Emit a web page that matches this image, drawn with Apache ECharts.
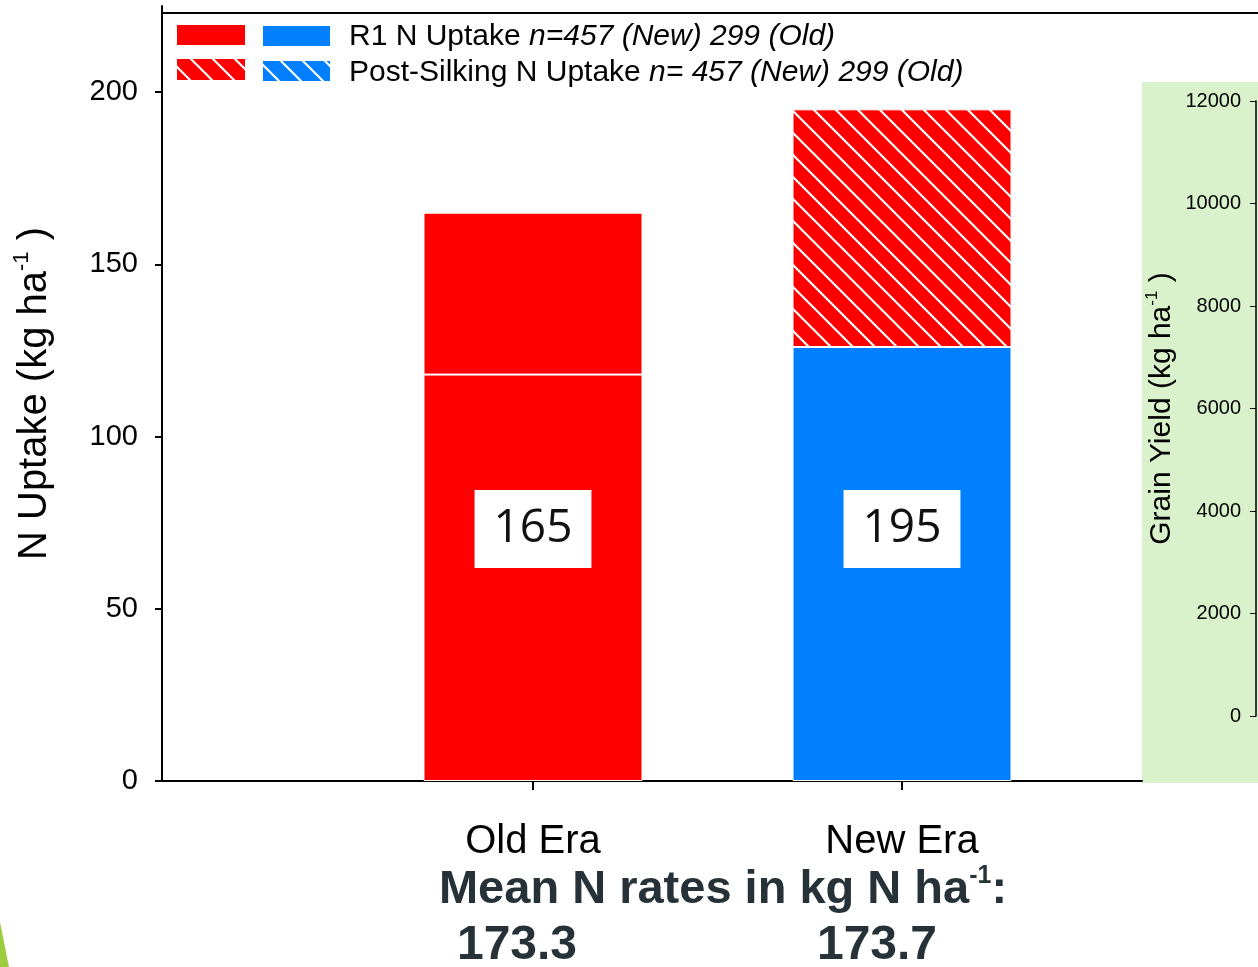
<!DOCTYPE html>
<html>
<head>
<meta charset="utf-8">
<script src="https://cdn.jsdelivr.net/npm/echarts@6/dist/echarts.min.js"></script>
<style>
  html, body { margin: 0; padding: 0; background: #fff; }
  #chart { width: 1258px; height: 967px; }
</style>
</head>
<body>
<div id="chart"></div>
<script>
// ---- data ----
const eras = ['Old Era', 'New Era'];
const r1Uptake = [118, 126];          // kg N/ha taken up by R1
const postSilkingUptake = [47, 69];   // kg N/ha taken up after silking
const uptakeTicks = [0, 50, 100, 150, 200];
const yieldTicks = [0, 2000, 4000, 6000, 8000, 10000, 12000];
const meanNRates = ['173.3', '173.7'];
const legendMain = ['R1 N Uptake ', 'Post-Silking N Uptake '];
const legendCounts = ['n=457 (New) 299 (Old)', 'n= 457 (New) 299 (Old)'];

const totals = r1Uptake.map((v, i) => v + postSilkingUptake[i]);

// ---- styling helpers ----
const RED = '#ff0000';
const BLUE = '#0080ff';
const FONT = '"Liberation Sans", Arial, sans-serif';

function hatch(bg) {
  const s = 22;
  const c = document.createElement('canvas');
  c.width = c.height = s;
  const g = c.getContext('2d');
  g.fillStyle = bg;
  g.fillRect(0, 0, s, s);
  g.strokeStyle = '#ffffff';
  g.lineWidth = 2.2;
  g.beginPath();
  for (const k of [-s, 0, s]) {
    g.moveTo(k - 1, -1);
    g.lineTo(k + s + 1, s + 1);
  }
  g.stroke();
  return { image: c, repeat: 'repeat' };
}

const redHatch = hatch(RED);
const blueHatch = hatch(BLUE);

const r1Colors = [RED, BLUE];
const postColors = [RED, redHatch];

const chart = echarts.init(document.getElementById('chart'), null, { renderer: 'canvas' });

const supRich = (size, supSize) => ({
  t: { fontSize: size, fontFamily: FONT, color: '#000', lineHeight: size * 1.2 },
  s: { fontSize: supSize, fontFamily: FONT, color: '#000', verticalAlign: 'top', lineHeight: supSize * 1.2 }
});

const option = {
  animation: false,
  backgroundColor: '#ffffff',
  grid: [
    { left: 348.5, width: 738, top: 6, bottom: 186 },   // bars
    { left: 162, right: 116, top: 6, bottom: 186 },     // full-width baseline
    { left: 1256, right: 1, top: 101, bottom: 251 }     // grain yield axis
  ],
  xAxis: [
    {
      gridIndex: 0, type: 'category', data: eras,
      axisLine: { show: false },
      axisTick: { show: true, alignWithLabel: true, length: 9, lineStyle: { color: '#000', width: 2 } },
      axisLabel: { fontSize: 40, fontFamily: FONT, color: '#000', margin: 41 }
    },
    {
      gridIndex: 1, type: 'value', min: 0, max: 1,
      axisLine: { show: true, lineStyle: { color: '#000', width: 2 } },
      axisTick: { show: false }, axisLabel: { show: false }, splitLine: { show: false }
    },
    { gridIndex: 2, type: 'value', show: false }
  ],
  yAxis: [
    {
      gridIndex: 0, type: 'value', min: 0, max: 225, position: 'left', offset: 186.5,
      axisLine: { show: true, lineStyle: { color: '#000', width: 2 } },
      axisTick: { show: true, length: 7, lineStyle: { color: '#000', width: 2 }, customValues: uptakeTicks },
      axisLabel: { customValues: uptakeTicks, fontSize: 29, fontFamily: FONT, color: '#000', margin: 24 },
      splitLine: { show: false },
      name: '{t|N Uptake (kg ha}{s|-1}{t| )}',
      nameLocation: 'middle', nameRotate: 90, nameGap: 103,
      nameTextStyle: { rich: supRich(40, 22) }
    },
    { gridIndex: 1, type: 'value', min: 0, max: 225, show: false },
    {
      gridIndex: 2, type: 'value', min: 0, max: 12000, interval: 2000, position: 'left',
      axisLine: { show: true, lineStyle: { color: '#000', width: 1.5 } },
      axisTick: { show: true, length: 6, lineStyle: { color: '#000', width: 1 } },
      axisLabel: {
        fontSize: 20, fontFamily: FONT, color: '#000', margin: 15,
        formatter: v => String(v)
      },
      splitLine: { show: false },
      name: '{t|Grain Yield (kg ha}{s|-1}{t| )}',
      nameLocation: 'middle', nameRotate: 90, nameGap: 76,
      nameTextStyle: { rich: supRich(30, 17) }
    }
  ],
  series: [
    {
      name: 'R1 N Uptake', type: 'bar', stack: 'uptake', barWidth: 219,
      xAxisIndex: 0, yAxisIndex: 0,
      data: r1Uptake.map((v, i) => ({ value: v, itemStyle: { color: r1Colors[i] } })),
      itemStyle: { borderColor: '#ffffff', borderWidth: 1 },
      label: {
        show: true, position: 'insideBottom', distance: 213,
        formatter: p => String(totals[p.dataIndex]),
        backgroundColor: '#ffffff', padding: [16, 19],
        fontSize: 46, lineHeight: 46, fontFamily: '"Open Sans", "Noto Sans", sans-serif', color: '#111'
      }
    },
    {
      name: 'Post-Silking N Uptake', type: 'bar', stack: 'uptake', barWidth: 219,
      xAxisIndex: 0, yAxisIndex: 0,
      data: postSilkingUptake.map((v, i) => ({ value: v, itemStyle: { color: postColors[i] } })),
      itemStyle: { borderColor: '#ffffff', borderWidth: 1 }
    }
  ],
  graphic: [
    // green panel behind the grain-yield axis
    { type: 'rect', z: -10, shape: { x: 1142, y: 82, width: 116, height: 701 }, style: { fill: '#daf2cb' } },
    // top frame line
    { type: 'line', shape: { x1: 162, y1: 13, x2: 1258, y2: 13 }, style: { stroke: '#000', lineWidth: 2 } },
    // slide accent in the corner
    { type: 'polygon', shape: { points: [[0, 922], [9, 967], [0, 967]] }, style: { fill: '#9dcc3e' } },
    // legend swatches
    { type: 'rect', shape: { x: 177, y: 25, width: 68, height: 20 }, style: { fill: RED } },
    { type: 'rect', shape: { x: 263, y: 26, width: 67, height: 20 }, style: { fill: BLUE } },
    { type: 'rect', shape: { x: 177, y: 59, width: 68, height: 21 }, style: { fill: redHatch } },
    { type: 'rect', shape: { x: 263, y: 61, width: 67, height: 20 }, style: { fill: blueHatch } },
    // legend text
    ...legendMain.map((m, i) => ({
      type: 'text', x: 349, y: 37 + i * 36,
      style: {
        text: '{n|' + m + '}{i|' + legendCounts[i] + '}',
        verticalAlign: 'middle', align: 'left',
        rich: {
          n: { fontSize: 30, fontFamily: FONT, fill: '#000' },
          i: { fontSize: 30, fontFamily: FONT, fontStyle: 'italic', fill: '#000' }
        }
      }
    })),
    // mean N rate caption
    {
      type: 'text', x: 723, y: 890,
      style: {
        text: '{b|Mean N rates in kg N ha}{s|-1}{b|:}',
        align: 'center', verticalAlign: 'middle',
        rich: {
          b: { fontSize: 47, fontWeight: 'bold', fontFamily: FONT, fill: '#263238', lineHeight: 52 },
          s: { fontSize: 25, fontWeight: 'bold', fontFamily: FONT, fill: '#263238', verticalAlign: 'top', lineHeight: 30 }
        }
      }
    },
    ...meanNRates.map((t, i) => ({
      type: 'text', x: [517, 877][i], y: 946,
      style: {
        text: t, align: 'center', verticalAlign: 'middle',
        fontSize: 48, fontWeight: 'bold', fontFamily: FONT, fill: '#263238'
      }
    }))
  ]
};

chart.setOption(option);
</script>
</body>
</html>
